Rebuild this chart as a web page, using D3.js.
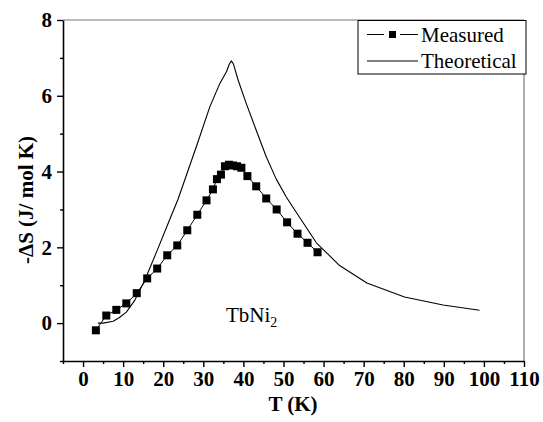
<!DOCTYPE html>
<html>
<head>
<meta charset="utf-8">
<script src="https://cdn.jsdelivr.net/npm/d3@7"></script>
<style>
  html, body { margin: 0; padding: 0; background: #fff; }
  svg { display: block; }
  text { font-family: "Liberation Serif", "Times New Roman", serif; }
</style>
</head>
<body>
<script>
// Measured entropy change of TbNi2 (T in K, -ΔS in J/mol K)
const measuredT = [3.2, 5.8, 8.3, 10.8, 13.4, 16.0, 18.5, 21.0, 23.5, 26.0, 28.5, 30.8, 32.4, 33.4, 34.4, 35.4, 36.4, 37.4, 38.4, 39.5, 41.0, 43.2, 45.7, 48.3, 50.9, 53.5, 56.0, 58.5];
const measuredS = [-0.19, 0.20, 0.35, 0.52, 0.79, 1.18, 1.44, 1.79, 2.05, 2.45, 2.86, 3.24, 3.53, 3.80, 3.92, 4.14, 4.18, 4.16, 4.14, 4.10, 3.88, 3.61, 3.29, 3.00, 2.66, 2.36, 2.12, 1.87];

// Theoretical curve
const theoryT = [3.7, 5.0, 7.5, 9.0, 10.8, 12.9, 15.4, 18.5, 21.8, 23.7, 28.6, 31.6, 34.1, 35.8, 36.5, 37.0, 37.5, 38.7, 40.7, 43.2, 45.7, 48.2, 50.7, 52.4, 58.2, 64.0, 70.8, 80.2, 89.8, 98.9];
const theoryS = [0.0, 0.0, 0.05, 0.14, 0.29, 0.60, 1.13, 1.92, 2.78, 3.27, 4.76, 5.70, 6.32, 6.64, 6.84, 6.92, 6.84, 6.41, 5.80, 5.09, 4.39, 3.80, 3.33, 3.05, 2.12, 1.52, 1.06, 0.69, 0.48, 0.34];

const xMajorTicks = [0, 10, 20, 30, 40, 50, 60, 70, 80, 90, 100, 110];
const xMinorTicks = [-5, 5, 15, 25, 35, 45, 55, 65, 75, 85, 95, 105];
const yMajorTicks = [0, 2, 4, 6, 8];
const yMinorTicks = [-1, 1, 3, 5, 7];

const legendLabels = ["Measured", "Theoretical"];

const W = 543, H = 422;
const plotLeft = 63, plotRight = 524, plotTop = 20, plotBottom = 361;
const fs = 21;

const x = d3.scaleLinear().domain([-5, 110]).range([plotLeft, plotRight]);
const y = d3.scaleLinear().domain([-1, 8]).range([plotBottom, plotTop]);

const svg = d3.select("body").append("svg").attr("width", W).attr("height", H);

// Frame: top and right edges in grey
svg.append("line").attr("x1", plotLeft).attr("x2", plotRight).attr("y1", plotTop).attr("y2", plotTop)
  .attr("stroke", "#777").attr("stroke-width", 1.2);
svg.append("line").attr("x1", plotRight).attr("x2", plotRight).attr("y1", plotTop).attr("y2", plotBottom)
  .attr("stroke", "#777").attr("stroke-width", 1.2);

// Bottom axis
const xAxisMajor = d3.axisBottom(x).tickValues(xMajorTicks).tickSize(6).tickSizeOuter(0).tickPadding(4);
const xAxisMinor = d3.axisBottom(x).tickValues(xMinorTicks).tickSize(3).tickSizeOuter(0).tickFormat("");
svg.append("g").attr("transform", `translate(0,${plotBottom})`).call(xAxisMajor);
svg.append("g").attr("transform", `translate(0,${plotBottom})`).call(xAxisMinor).select(".domain").remove();

// Left axis
const yAxisMajor = d3.axisLeft(y).tickValues(yMajorTicks).tickSize(6).tickSizeOuter(0).tickPadding(5);
const yAxisMinor = d3.axisLeft(y).tickValues(yMinorTicks).tickSize(3).tickSizeOuter(0).tickFormat("");
svg.append("g").attr("transform", `translate(${plotLeft},0)`).call(yAxisMajor);
svg.append("g").attr("transform", `translate(${plotLeft},0)`).call(yAxisMinor).select(".domain").remove();

svg.selectAll(".domain").attr("stroke", "#000").attr("stroke-width", 1.6);
svg.selectAll(".tick line").attr("stroke", "#000").attr("stroke-width", 1.4);
svg.selectAll(".tick text")
  .attr("font-weight", "bold").attr("font-size", fs).attr("fill", "#000");

// Axis titles
svg.append("text").attr("x", 293).attr("y", 411)
  .attr("text-anchor", "middle").attr("font-weight", "bold").attr("font-size", fs)
  .text("T (K)");
svg.append("text")
  .attr("transform", `translate(33,200) rotate(-90)`)
  .attr("text-anchor", "middle").attr("font-weight", "bold").attr("font-size", fs)
  .text("-ΔS (J/ mol K)");

const theory = theoryT.map((t, i) => [t, theoryS[i]]);
const measured = measuredT.map((t, i) => [t, measuredS[i]]);
const line = d3.line().x(d => x(d[0])).y(d => y(d[1]));

// Theoretical line
svg.append("path").datum(theory).attr("d", line)
  .attr("fill", "none").attr("stroke", "#000").attr("stroke-width", 1.1)
  .attr("stroke-linejoin", "round");

// Measured line with square markers
svg.append("path").datum(measured).attr("d", line)
  .attr("fill", "none").attr("stroke", "#000").attr("stroke-width", 1);
const sq = 8;
svg.selectAll("rect.pt").data(measured).enter().append("rect")
  .attr("class", "pt")
  .attr("x", d => x(d[0]) - sq / 2).attr("y", d => y(d[1]) - sq / 2)
  .attr("width", sq).attr("height", sq).attr("fill", "#000");

// Compound label
const lbl = svg.append("text").attr("x", 226).attr("y", 322).attr("font-size", fs);
lbl.append("tspan").text("TbNi");
lbl.append("tspan").attr("dy", 5).attr("font-size", 14).text("2");

// Legend
const lg = svg.append("g");
lg.append("rect").attr("x", 358).attr("y", 20.5).attr("width", 168).attr("height", 53.5)
  .attr("fill", "#fff").attr("stroke", "#000").attr("stroke-width", 1);
const rowY = [34.5, 61];
lg.append("line").attr("x1", 367).attr("x2", 384).attr("y1", rowY[0]).attr("y2", rowY[0]).attr("stroke", "#000").attr("stroke-width", 1);
lg.append("line").attr("x1", 400).attr("x2", 418).attr("y1", rowY[0]).attr("y2", rowY[0]).attr("stroke", "#000").attr("stroke-width", 1);
lg.append("rect").attr("x", 389).attr("y", rowY[0] - 3.5).attr("width", 7).attr("height", 7).attr("fill", "#000");
lg.append("line").attr("x1", 367).attr("x2", 418).attr("y1", rowY[1]).attr("y2", rowY[1]).attr("stroke", "#000").attr("stroke-width", 1);
lg.selectAll("text.lg").data(legendLabels).enter().append("text")
  .attr("class", "lg").attr("x", 421).attr("y", (d, i) => rowY[i] + 7)
  .attr("font-size", fs).text(d => d);
</script>
</body>
</html>
